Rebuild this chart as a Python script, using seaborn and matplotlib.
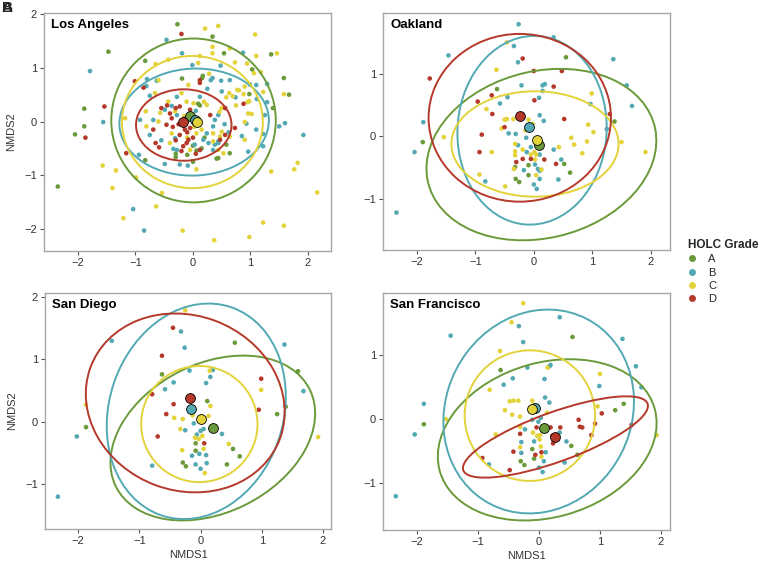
import pandas as pd
import matplotlib
matplotlib.use("Agg")
import matplotlib.pyplot as plt
from matplotlib.patches import Ellipse
from matplotlib.lines import Line2D
import seaborn as sns

grades = ["A", "B", "C", "D"]
palette = {"A": "#6a9a3a", "B": "#52a9b4", "C": "#e3d23a", "D": "#b5392a"}

# ---- Los Angeles site scores ----
la_A = [(-0.27, 1.81), (0.34, 1.58), (0.54, 1.27), (1.36, 1.25), (1.03, 0.97), (-0.83, 1.13),
        (-0.19, 0.80), (0.17, 0.85), (0.16, 0.81), (0.98, 0.51), (1.58, 0.81), (1.67, 0.50),
        (1.39, 0.25), (0.58, -0.43), (0.64, -0.59), (0.44, -0.68), (-0.83, -0.72), (-2.35, -1.21),
        (-2.05, -0.24), (-1.89, 0.24), (-1.89, -0.09), (-1.47, 1.30), (0.09, 0.33), (0.12, 0.30),
        (-0.05, 0.05), (0.00, -0.45), (0.15, -0.50), (-0.30, -0.60), (0.20, -0.30), (0.41, -0.69),
        (0.00, -0.75), (0.06, -0.54), (-0.10, -0.62), (-0.30, -0.66)]
la_B = [(-0.46, 1.52), (-0.19, 1.27), (0.87, 1.28), (-0.01, 1.05), (0.48, 1.04), (-0.80, 0.79),
        (0.31, 0.77), (0.49, 0.76), (0.64, 0.77), (1.10, 0.68), (1.29, 0.70), (0.99, 0.69),
        (0.34, 0.81), (0.25, 0.61), (0.50, 0.56), (1.11, 0.42), (1.29, 0.36), (1.25, 0.12),
        (1.50, -0.09), (1.60, -0.03), (1.92, -0.25), (0.74, 0.45), (0.93, -0.04), (1.10, -0.15),
        (1.22, -0.46), (0.96, -0.56), (0.44, -0.40), (0.35, -0.53), (0.27, -0.40), (-0.23, -0.80),
        (-0.09, -0.82), (-0.49, -0.79), (-1.79, 0.94), (-1.56, -0.01), (-1.04, -1.63), (-0.85, -2.03),
        (-0.81, 0.66), (-0.63, 0.76), (-0.75, 0.48), (-0.28, 0.46), (-0.37, 0.29), (-0.49, 0.22),
        (-0.69, 0.03), (-0.92, 0.03), (-0.75, -0.25), (-0.28, 0.12), (-0.20, 0.00), (-0.31, -0.31),
        (-0.28, -0.53), (0.03, -0.43), (0.18, -0.34), (0.24, -0.22), (0.35, -0.09), (0.38, 0.03),
        (0.44, 0.12), (0.12, 0.46), (0.12, 0.00), (0.05, 0.20), (-0.55, -0.35), (0.55, -0.05),
        (0.62, -0.20), (-0.94, -0.62), (-0.34, -0.51), (0.85, -0.27), (1.22, -0.23), (0.38, -0.43),
        (0.44, -0.37), (0.12, -0.53)]
la_C = [(0.21, 1.73), (0.44, 1.78), (1.08, 1.62), (0.12, 1.22), (0.34, 1.39), (0.34, 1.27),
        (0.64, 1.36), (1.10, 1.22), (1.46, 1.27), (-0.65, 1.07), (-0.43, 1.15), (0.09, 1.09),
        (0.73, 1.10), (0.94, 1.08), (1.06, 0.90), (1.18, 0.92), (-0.60, 0.77), (0.28, 0.89),
        (0.77, 0.59), (0.63, 0.53), (0.80, 0.58), (0.90, 0.65), (1.22, 0.55), (1.58, 0.51),
        (0.88, 0.51), (0.69, 0.47), (0.98, 0.38), (0.75, 0.30), (0.95, 0.36), (0.58, 0.45),
        (0.96, 0.15), (0.46, 0.18), (1.02, 0.14), (0.90, -0.01), (0.90, -0.34), (0.64, -0.28),
        (0.47, -0.28), (0.35, -0.22), (0.53, -0.59), (1.36, -0.93), (1.82, -0.77), (1.76, -0.89),
        (2.16, -1.32), (1.22, -1.88), (1.58, -1.94), (0.98, -2.15), (0.37, -2.21), (-0.18, -2.03),
        (-0.64, -1.58), (-0.54, -1.33), (0.06, -0.89), (-1.57, -0.82), (-1.40, -1.24), (-1.34, -0.91),
        (-1.21, -1.80), (-0.99, -1.04), (-1.18, 0.06), (-0.66, 0.53), (-0.20, 0.53), (-0.08, 0.68),
        (-0.43, 0.37), (-0.57, 0.16), (-0.82, 0.19), (-0.81, -0.09), (-0.60, 0.00), (-0.31, 0.19),
        (-0.40, -0.40), (-0.05, -0.53), (0.50, 0.25), (0.24, 0.31), (0.01, 0.34), (-0.11, 0.37),
        (0.50, -0.19), (0.35, -0.37), (0.44, -0.53), (0.06, -0.22), (-0.37, -0.22), (0.19, 0.37),
        (0.02, -0.10), (0.10, 0.05), (-0.10, -0.30), (0.15, -0.15), (-0.15, 0.10)]
la_D = [(-0.20, 1.63), (-1.01, 0.75), (0.12, 0.77), (0.12, 0.72), (0.73, -0.12), (0.88, 0.33),
        (0.56, 0.25), (-1.87, -0.30), (-1.54, 0.28), (-1.16, -0.59), (-0.86, 0.63), (-0.69, -0.15),
        (-0.46, -0.06), (-0.37, 0.06), (-0.23, 0.28), (-0.14, -0.15), (-0.23, -0.25), (-0.17, -0.46),
        (-0.08, -0.34), (0.12, -0.53), (0.30, 0.12), (0.47, -0.34), (0.56, -0.25), (-0.05, -0.12),
        (-0.11, -0.40), (-0.30, 0.25), (-0.40, 0.15), (-0.25, -0.05), (-0.15, 0.05), (-0.05, 0.22),
        (0.00, -0.30), (-0.30, -0.35), (-0.20, -0.55), (0.05, -0.60), (-0.35, -0.10), (-0.10, -0.20),
        (-0.45, 0.30), (-0.55, 0.25), (-0.65, -0.40), (-0.59, -0.48)]

# ---- Oakland ----
oak_A = [(0.55, 1.27), (-0.63, 0.76), (1.38, 0.24), (-1.90, -0.09), (0.52, -0.44), (0.62, -0.58),
         (-0.32, -0.49), (-0.09, -0.46), (-0.09, -0.62), (-0.31, -0.68), (-0.25, -0.73)]
oak_B = [(-0.26, 1.80), (-1.46, 1.30), (-0.34, 1.45), (-0.27, 1.19), (0.34, 1.59), (1.36, 1.24),
         (-0.21, 0.82), (0.15, 0.82), (0.19, 0.84), (0.15, 0.73), (1.59, 0.82), (1.68, 0.49),
         (0.97, 0.52), (-0.45, 0.63), (-0.58, 0.53), (0.09, 0.62), (0.10, 0.34), (0.17, 0.25),
         (1.25, 0.12), (0.34, -0.21), (-1.89, 0.23), (-2.04, -0.25), (-2.35, -1.22), (-0.43, 0.05),
         (-0.31, 0.04), (-0.13, -0.02), (-0.05, -0.17), (-0.12, -0.25), (-0.27, -0.14), (0.10, -0.29),
         (0.02, -0.45), (-0.17, -0.54), (0.07, -0.52), (0.10, -0.55), (0.00, -0.77), (0.05, -0.84),
         (0.10, -0.68), (0.47, -0.37), (0.42, -0.69), (-0.83, -0.72)]
oak_C = [(-0.46, 1.51), (-0.64, 1.07), (0.99, 0.69), (-0.81, 0.44), (0.93, 0.19), (1.02, 0.07),
         (0.91, -0.08), (0.64, -0.02), (0.69, -0.13), (0.83, -0.27), (0.43, -0.17), (1.50, -0.09),
         (1.91, -0.25), (-1.54, -0.01), (-0.72, -0.25), (-0.55, 0.13), (-0.50, 0.27), (-0.46, 0.28),
         (-0.35, 0.28), (-0.09, 0.27), (-0.02, 0.20), (-0.14, 0.10), (-0.32, -0.12), (-0.19, -0.21),
         (-0.32, -0.24), (-0.32, -0.30), (0.02, -0.37), (0.04, -0.29), (0.01, -0.25), (-0.05, -0.29),
         (-0.34, -0.52), (0.13, -0.53), (0.04, -0.62), (-0.93, -0.61), (-0.49, -0.80)]
oak_D = [(-0.19, 1.25), (-1.78, 0.93), (0.00, 1.05), (0.48, 1.05), (0.34, 0.80), (-0.72, 0.66),
         (-0.96, 0.56), (-0.71, 0.36), (0.01, 0.58), (0.52, 0.28), (1.30, 0.36), (-0.89, 0.03),
         (-0.93, -0.25), (-0.50, 0.15), (-0.19, -0.36), (-0.05, -0.36), (0.18, -0.37), (-0.30, -0.41),
         (0.38, -0.44)]

# ---- San Diego ----
sd_A = [(0.56, 1.27), (-0.63, 0.76), (1.59, 0.81), (0.11, 0.33), (-0.08, -0.35), (-0.08, -0.47),
        (-0.29, -0.66), (-0.24, -0.72), (0.53, -0.44), (0.64, -0.56), (0.43, -0.69), (-1.87, -0.09),
        (1.25, 0.12), (1.39, 0.24)]
sd_B = [(-0.32, 1.45), (-0.26, 1.19), (-1.45, 1.30), (1.37, 1.24), (-0.18, 0.82), (0.20, 0.83),
        (0.16, 0.72), (0.09, 0.62), (1.68, 0.49), (-0.44, 0.63), (-0.58, 0.52), (-0.11, -0.03),
        (0.05, -0.12), (0.00, -0.15), (-0.06, -0.21), (-0.25, -0.14), (0.35, -0.20), (-0.14, -0.55),
        (-0.02, -0.52), (0.09, -0.54), (-0.08, -0.69), (0.10, -0.67), (0.00, -0.76), (-0.79, -0.71),
        (-2.02, -0.24), (-2.33, -1.21)]
sd_C = [(-0.25, 1.79), (0.99, 0.51), (-0.43, 0.06), (-0.29, 0.04), (-0.13, 0.10), (0.16, 0.25),
        (0.13, 0.09), (-0.33, -0.12), (-0.09, -0.26), (-0.03, -0.28), (0.03, -0.23), (0.05, -0.44),
        (-0.30, -0.46), (0.07, -0.83), (0.46, -0.36), (-1.87, 0.27), (1.92, -0.25), (0.15, 0.82)]
sd_D = [(-0.45, 1.51), (-0.63, 1.06), (0.99, 0.69), (-0.79, 0.44), (-0.44, 0.28), (-0.56, 0.12),
        (0.06, -0.35), (-0.70, -0.24), (0.95, 0.19)]

# ---- San Francisco ----
sf_A = [(0.55, 1.29), (-0.63, 0.77), (-0.11, -0.47), (-0.08, -0.62), (-0.30, -0.66), (-0.24, -0.72),
        (0.53, -0.42), (0.63, -0.56), (1.25, 0.14), (1.39, 0.24), (-1.89, -0.08)]
sf_B = [(-0.33, 1.46), (-0.26, 1.21), (-1.45, 1.31), (0.34, 1.60), (1.37, 1.26), (-0.19, 0.81),
        (0.17, 0.83), (0.19, 0.85), (0.09, 0.63), (0.99, 0.52), (1.59, 0.83), (1.68, 0.50),
        (-0.43, 0.64), (-0.58, 0.54), (0.10, 0.34), (0.17, 0.26), (0.03, 0.02), (-0.01, -0.04),
        (-0.11, -0.01), (-0.23, -0.16), (-0.08, -0.35), (-0.29, -0.53), (0.11, -0.52), (0.08, -0.66),
        (0.00, -0.76), (0.06, -0.83), (0.34, -0.21), (0.45, -0.35), (0.42, -0.68), (-0.82, -0.71),
        (-0.29, -0.36), (-1.89, 0.24), (-2.04, -0.24), (-2.35, -1.21)]
sf_C = [(-0.26, 1.82), (-0.45, 1.52), (-0.64, 1.07), (0.14, 0.81), (1.00, 0.71), (-0.81, 0.46),
        (-0.48, 0.28), (-0.42, 0.29), (-0.34, 0.29), (-0.56, 0.14), (-0.44, 0.07), (-0.31, 0.04),
        (-0.11, 0.29), (-0.09, 0.22), (0.13, 0.10), (-0.31, -0.12), (-0.10, -0.21), (-0.03, -0.26),
        (0.02, -0.25), (0.01, -0.32), (0.03, -0.43), (-0.31, -0.44), (0.04, -0.59), (0.96, 0.20),
        (1.93, -0.25), (-0.71, -0.24), (-1.53, 0.00)]
sf_D = [(-0.04, -0.13), (-0.31, -0.23), (-0.42, -0.51), (0.04, -0.52), (0.35, -0.13), (0.19, -0.13),
        (0.22, -0.26), (0.23, -0.38), (0.67, -0.12), (0.65, -0.01), (0.71, -0.13), (0.86, -0.25),
        (0.92, -0.07), (1.03, 0.09), (1.52, -0.09), (-0.93, -0.61), (-0.48, -0.80), (-0.06, -0.56)]

# ---- group centroids ----
la_cent = [(-0.05, 0.11), (0.03, 0.02), (0.075, -0.01), (-0.18, 0.00)]
oak_cent = [(0.09, -0.13), (-0.08, 0.16), (0.05, -0.05), (-0.23, 0.33)]
sd_cent = [(0.20, -0.11), (-0.15, 0.21), (0.01, 0.04), (-0.17, 0.375)]
sf_cent = [(0.09, -0.14), (-0.07, 0.17), (-0.11, 0.16), (0.27, -0.28)]

# ---- 95% ellipses: centre x, centre y, width, height, angle (deg) per grade ----
la_ell = [(0.01, 0.02, 2.86, 3.05, 0), (0.02, -0.01, 2.60, 1.99, 3),
          (-0.01, -0.01, 2.45, 2.46, 0), (-0.16, -0.065, 1.66, 1.33, 0)]
oak_ell = [(0.13, -0.29, 3.98, 2.68, 12), (-0.03, 0.10, 2.55, 3.03, -5),
           (0.02, -0.12, 2.86, 1.69, 0), (-0.24, 0.30, 3.12, 2.69, 0)]
sd_ell = [(0.20, -0.265, 3.53, 2.40, 26), (-0.07, 0.165, 3.54, 2.84, 70.8),
          (-0.02, -0.04, 1.90, 1.87, 0), (-0.25, 0.30, 3.30, 2.82, -20)]
sf_ell = [(0.135, -0.325, 3.66, 2.43, 15), (-0.005, 0.12, 3.32, 3.00, 51.5),
          (-0.15, 0.055, 2.14, 2.05, 0), (0.27, -0.28, 3.20, 0.78, 19)]

cities = ["Los Angeles", "Oakland", "San Diego", "San Francisco"]
points = {"Los Angeles": [la_A, la_B, la_C, la_D], "Oakland": [oak_A, oak_B, oak_C, oak_D],
          "San Diego": [sd_A, sd_B, sd_C, sd_D], "San Francisco": [sf_A, sf_B, sf_C, sf_D]}
centroids = {"Los Angeles": la_cent, "Oakland": oak_cent, "San Diego": sd_cent, "San Francisco": sf_cent}
ellipses = {"Los Angeles": la_ell, "Oakland": oak_ell, "San Diego": sd_ell, "San Francisco": sf_ell}

xlims = {"Los Angeles": (-2.59, 2.4), "Oakland": (-2.58, 2.33), "San Diego": (-2.54, 2.13), "San Francisco": (-2.56, 2.15)}
ylims = {"Los Angeles": (-2.41, 2.02), "Oakland": (-1.82, 1.98), "San Diego": (-1.73, 2.07), "San Francisco": (-1.74, 1.98)}
yticks = {"Los Angeles": [-2, -1, 0, 1, 2], "Oakland": [-1, 0, 1], "San Diego": [-1, 0, 1, 2], "San Francisco": [-1, 0, 1]}

sns.set_style("white")
plt.rcParams["font.family"] = ["Liberation Sans", "DejaVu Sans"]

fig = plt.figure(figsize=(7.64, 5.68), dpi=100)
W, H = 764, 568
boxes = {"Los Angeles": (44, 13, 331, 251), "Oakland": (383, 13, 670, 250),
         "San Diego": (45, 293, 331, 529), "San Francisco": (383, 293, 670, 530)}

for city in cities:
    l, t, r, b = boxes[city]
    ax = fig.add_axes([l / W, 1 - b / H, (r - l) / W, (b - t) / H])

    rows = []
    for g, pts in zip(grades, points[city]):
        for x, y in pts:
            rows.append((x, y, g))
    df = pd.DataFrame(rows, columns=["NMDS1", "NMDS2", "grade"])
    sns.scatterplot(data=df, x="NMDS1", y="NMDS2", hue="grade", hue_order=grades, palette=palette,
                    s=11, linewidth=0, legend=False, ax=ax, zorder=2)

    for g, (cx, cy, w, h, ang) in zip(grades, ellipses[city]):
        ax.add_patch(Ellipse((cx, cy), w, h, angle=ang, fill=False, edgecolor=palette[g], lw=1.4, zorder=3))

    cdf = pd.DataFrame([(x, y, g) for (x, y), g in zip(centroids[city], grades)], columns=["NMDS1", "NMDS2", "grade"])
    for g in grades:
        sns.scatterplot(data=cdf[cdf.grade == g], x="NMDS1", y="NMDS2", color=palette[g], s=50,
                        edgecolor="black", linewidth=0.6, legend=False, ax=ax, zorder=4)

    ax.set_xlim(xlims[city])
    ax.set_ylim(ylims[city])
    ax.set_xticks([-2, -1, 0, 1, 2])
    ax.set_yticks(yticks[city])
    ax.tick_params(axis="both", which="both", direction="out", length=3, width=0.8, color="#555555",
                   labelsize=8, labelcolor="#333333", pad=2, bottom=True, left=True)
    for sp in ax.spines.values():
        sp.set_color("#a6a6a6")
        sp.set_linewidth(1.0)
    ax.text(0.025, 0.975, city, transform=ax.transAxes, ha="left", va="top",
            fontsize=9.5, fontweight="bold", color="black")

    if city in ("Los Angeles", "San Diego"):
        ax.set_ylabel("NMDS2", fontsize=8, color="#333333", labelpad=6)
    else:
        ax.set_ylabel("")
    if city in ("San Diego", "San Francisco"):
        ax.set_xlabel("NMDS1", fontsize=8, color="#333333", labelpad=3)
    else:
        ax.set_xlabel("")

fig.text(0.002, 0.999, "A", fontsize=11, fontweight="bold", ha="left", va="top")
fig.text(0.002, 0.999, "B", fontsize=11, fontweight="bold", ha="left", va="top")

handles = [Line2D([0], [0], marker="o", linestyle="", markersize=5, markerfacecolor=palette[g],
                  markeredgewidth=0) for g in grades]
leg = fig.legend(handles, grades, title="HOLC Grade", loc="upper left",
                 bbox_to_anchor=(688 / W, 1 - 239 / H), frameon=False, fontsize=8,
                 title_fontproperties={"weight": "bold", "size": 8.5}, handlelength=0.8,
                 handletextpad=1.0, labelspacing=0.3, borderpad=0, borderaxespad=0, alignment="left")

fig.savefig("out.png", dpi=100)
